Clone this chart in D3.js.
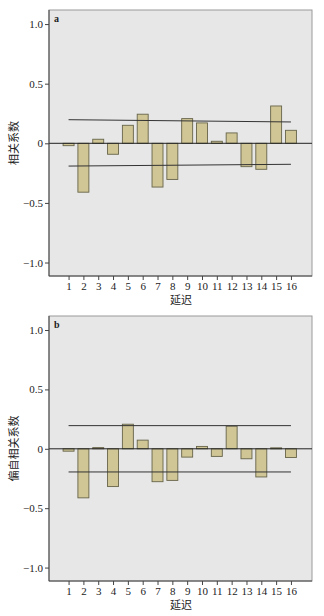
<!DOCTYPE html>
<html>
<head>
<meta charset="utf-8">
<script src="https://cdn.jsdelivr.net/npm/d3@7/dist/d3.min.js"></script>
<style>
  html, body { margin: 0; padding: 0; background: #ffffff; }
  svg { display: block; }
</style>
</head>
<body>
<svg id="chart" width="324" height="616"></svg>
<script>
// Lags shown on the horizontal axis
const lags = d3.range(1, 17);
const yTicks = [-1.0, -0.5, 0, 0.5, 1.0];

// Autocorrelation coefficients (panel a)
const acfValues = [-0.02, -0.41, 0.034, -0.092, 0.151, 0.244, -0.367, -0.303,
                   0.207, 0.171, 0.017, 0.087, -0.196, -0.218, 0.313, 0.109];
// Confidence limits for panel a, at lag 1 and lag 16
const acfUpper = [0.198, 0.179];
const acfLower = [-0.191, -0.176];

// Partial autocorrelation coefficients (panel b)
const pacfValues = [-0.02, -0.413, 0.01, -0.318, 0.207, 0.073, -0.277, -0.266,
                    -0.07, 0.02, -0.064, 0.19, -0.084, -0.237, 0.008, -0.073];
const pacfUpper = [0.195, 0.195];
const pacfLower = [-0.195, -0.195];

const svg = d3.select("#chart");
const numFont = "'Liberation Serif', 'DejaVu Serif', serif";
const cjkFont = "'Noto Sans CJK SC', sans-serif";

function drawPanel(opts) {
  const left = 49, right = 312;
  const top = opts.top, bottom = opts.bottom;

  const x = d3.scaleLinear().domain([-0.32, 17.42]).range([left, right]);
  const y = d3.scaleLinear().domain([-1.113, 1.118]).range([bottom, top]);

  const g = svg.append("g");

  // plot background
  g.append("rect")
    .attr("x", left).attr("y", top)
    .attr("width", right - left).attr("height", bottom - top)
    .attr("fill", "#e7e7e7")
    .attr("stroke", "#9a9a9a").attr("stroke-width", 1);

  // bars
  const bw = 0.74;
  g.selectAll("rect.bar")
    .data(opts.values)
    .join("rect")
    .attr("class", "bar")
    .attr("x", (d, i) => x(lags[i] - bw / 2))
    .attr("width", x(bw) - x(0))
    .attr("y", d => y(Math.max(0, d)))
    .attr("height", d => Math.max(1, Math.abs(y(d) - y(0))))
    .attr("fill", "#d0c595")
    .attr("stroke", "#66644a")
    .attr("stroke-width", 0.9);

  // zero reference line
  g.append("line")
    .attr("x1", left).attr("x2", right)
    .attr("y1", y(0)).attr("y2", y(0))
    .attr("stroke", "#222").attr("stroke-width", 1);

  // confidence limits
  [opts.upper, opts.lower].forEach(lim => {
    g.append("line")
      .attr("x1", x(lags[0])).attr("x2", x(lags[lags.length - 1]))
      .attr("y1", y(lim[0])).attr("y2", y(lim[1]))
      .attr("stroke", "#333").attr("stroke-width", 1);
  });

  // left and bottom axis lines drawn darker
  g.append("line")
    .attr("x1", left).attr("x2", left).attr("y1", top).attr("y2", bottom)
    .attr("stroke", "#444").attr("stroke-width", 1);
  g.append("line")
    .attr("x1", left).attr("x2", right).attr("y1", bottom).attr("y2", bottom)
    .attr("stroke", "#444").attr("stroke-width", 1);

  // y axis
  const yAxis = d3.axisLeft(y).tickValues(yTicks).tickSize(4).tickPadding(2)
    .tickFormat(d => d === 0 ? "0" : d3.format(".1f")(d).replace("-", "\u2212"));
  const ya = g.append("g").attr("transform", `translate(${left},0)`).call(yAxis);
  ya.select(".domain").remove();
  ya.selectAll("line").attr("stroke", "#444");
  ya.selectAll("text").attr("font-family", numFont).attr("font-size", 11).attr("fill", "#222");

  // x axis
  const xAxis = d3.axisBottom(x).tickValues(lags).tickSize(4).tickPadding(2)
    .tickFormat(d3.format("d"));
  const xa = g.append("g").attr("transform", `translate(0,${bottom})`).call(xAxis);
  xa.select(".domain").remove();
  xa.selectAll("line").attr("stroke", "#444");
  xa.selectAll("text").attr("font-family", numFont).attr("font-size", 11).attr("fill", "#222");

  // x axis title
  g.append("text")
    .attr("x", (left + right) / 2 + 0.5).attr("y", bottom + 28)
    .attr("text-anchor", "middle")
    .attr("font-family", cjkFont).attr("font-size", 11).attr("fill", "#222")
    .text("延迟");

  // y axis title
  g.append("text")
    .attr("transform", `translate(18,${(top + bottom) / 2}) rotate(-90)`)
    .attr("text-anchor", "middle")
    .attr("font-family", cjkFont).attr("font-size", 11).attr("fill", "#222")
    .text(opts.yLabel);

  // panel letter
  g.append("text")
    .attr("x", left + 5).attr("y", top + 12)
    .attr("font-family", numFont).attr("font-weight", "bold")
    .attr("font-size", 10).attr("fill", "#222")
    .text(opts.letter);
}

drawPanel({ top: 10, bottom: 276, values: acfValues, upper: acfUpper, lower: acfLower,
            yLabel: "相关系数", letter: "a" });
drawPanel({ top: 316, bottom: 581, values: pacfValues, upper: pacfUpper, lower: pacfLower,
            yLabel: "偏自相关系数", letter: "b" });
</script>
</body>
</html>
